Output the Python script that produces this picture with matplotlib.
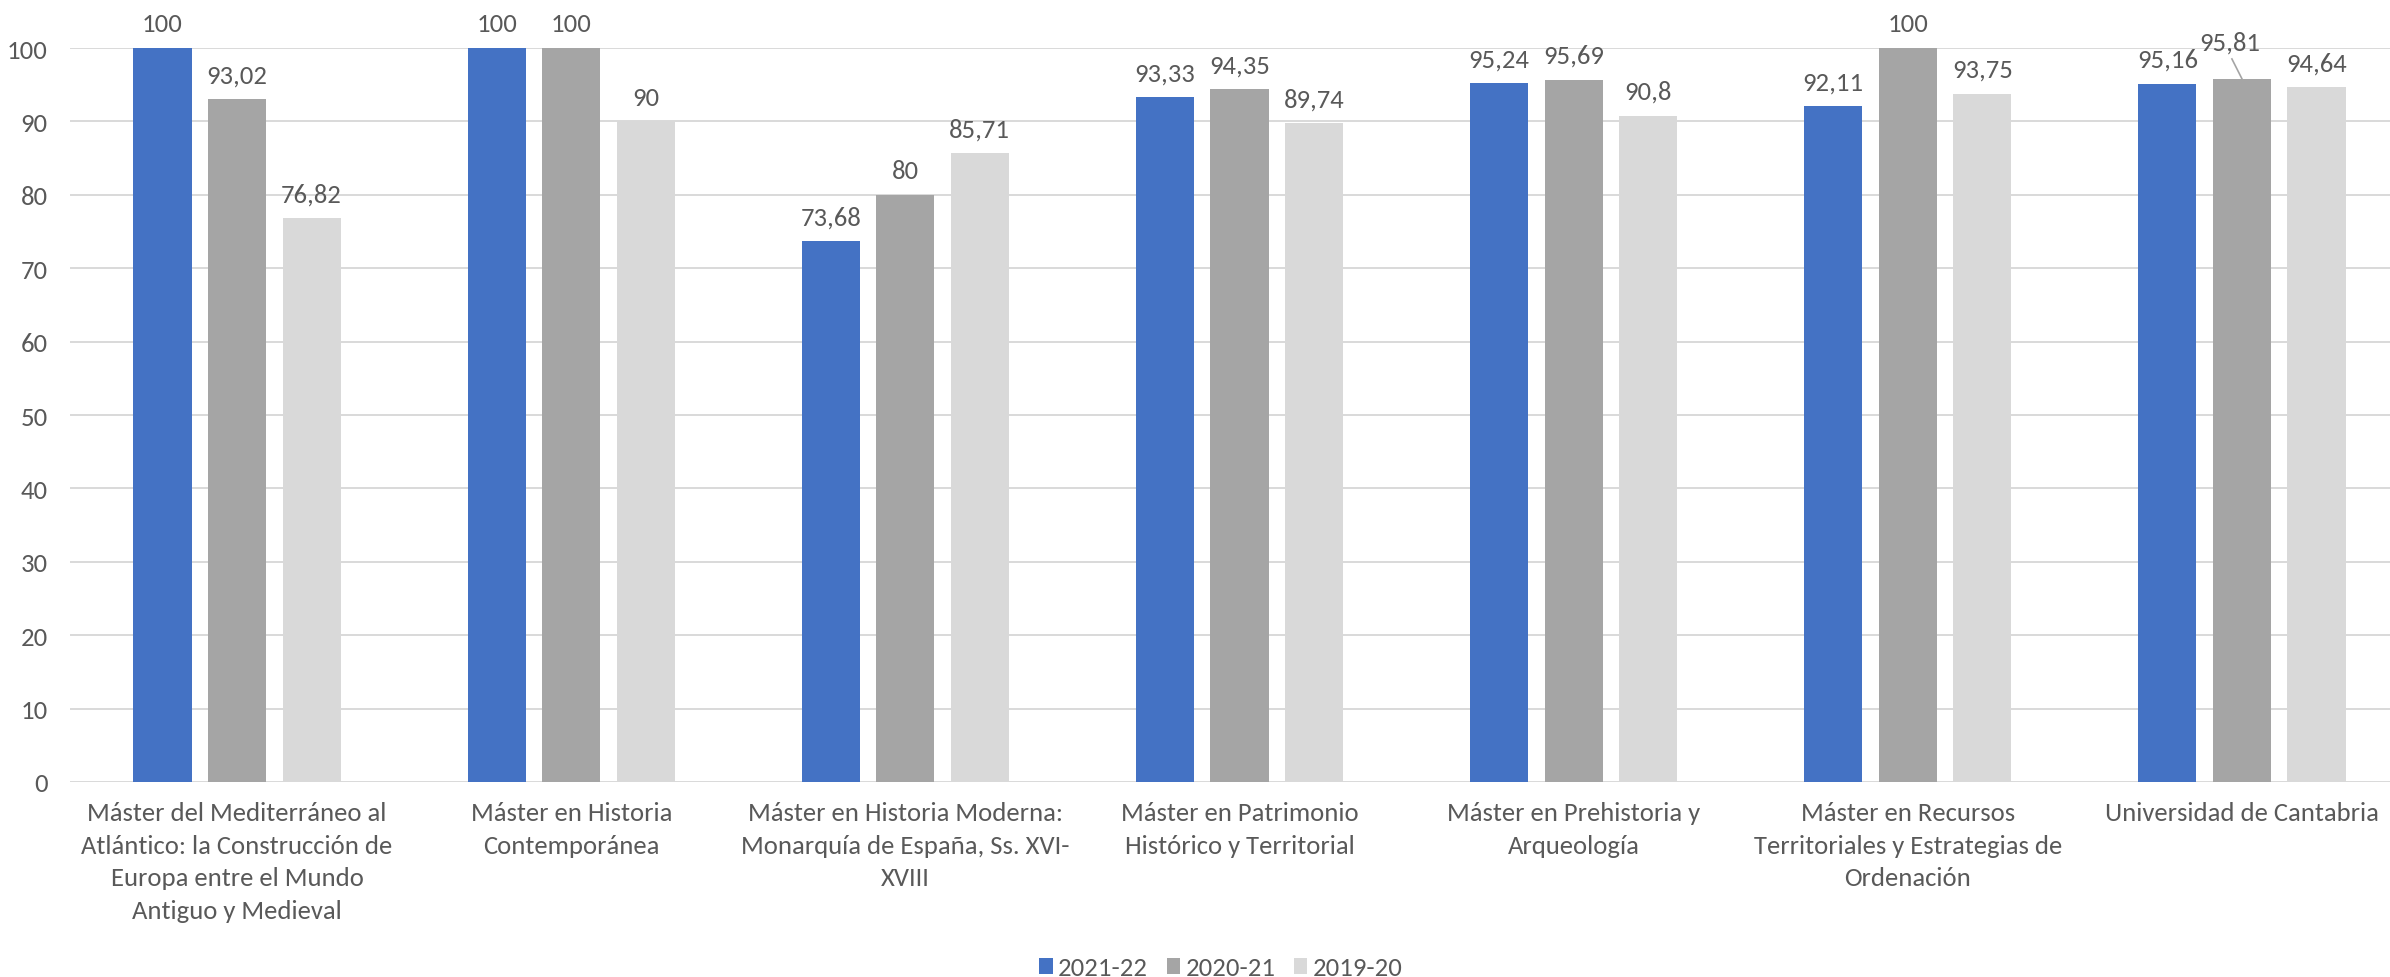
import matplotlib
matplotlib.use("Agg")
import matplotlib.pyplot as plt
import numpy as np

categories = [
    "Máster del Mediterráneo al\nAtlántico: la Construcción de\nEuropa entre el Mundo\nAntiguo y Medieval",
    "Máster en Historia\nContemporánea",
    "Máster en Historia Moderna:\nMonarquía de España, Ss. XVI-\nXVIII",
    "Máster en Patrimonio\nHistórico y Territorial",
    "Máster en Prehistoria y\nArqueología",
    "Máster en Recursos\nTerritoriales y Estrategias de\nOrdenación",
    "Universidad de Cantabria",
]
series_names = ["2021-22", "2020-21", "2019-20"]
s2021_22 = [100, 100, 73.68, 93.33, 95.24, 92.11, 95.16]
s2020_21 = [93.02, 100, 80, 94.35, 95.69, 100, 95.81]
s2019_20 = [76.82, 90, 85.71, 89.74, 90.8, 93.75, 94.64]
colors = ["#4472C4", "#A5A5A5", "#D9D9D9"]
yticks = [0, 10, 20, 30, 40, 50, 60, 70, 80, 90, 100]

plt.rcParams['font.family'] = ['Carlito', 'Liberation Sans Narrow', 'Roboto', 'DejaVu Sans']
txt = "#595959"
fs = 19.2

W, H = 2390, 978
fig = plt.figure(figsize=(W / 100, H / 100), dpi=100)
left, right, bottom, top = 70, 2409, 783, 49
ax = fig.add_axes([left / W, 1 - bottom / H, (right - left) / W, (bottom - top) / H])

x = np.arange(len(categories))
bw = 0.174
step = 0.223
all_series = [s2021_22, s2020_21, s2019_20]
for i, (vals, c, name) in enumerate(zip(all_series, colors, series_names)):
    xs = x + (i - 1) * step
    ax.bar(xs, vals, width=bw, color=c, label=name, zorder=3)
    for j, (xx, v) in enumerate(zip(xs, vals)):
        lab = f"{v:g}".replace(".", ",")
        if i == 1 and j == 6:
            ax.annotate(lab, xy=(xx, v), xytext=(xx - 0.035, v + 5), ha='center', va='center',
                        fontsize=fs, color=txt, annotation_clip=False)
            ax.plot([xx - 0.03, xx], [v + 2.7, v], color="#A5A5A5", lw=1.2, clip_on=False, zorder=4)
        else:
            ax.annotate(lab, xy=(xx, v), xytext=(0, 17.5), textcoords='offset points',
                        ha='center', va='center', fontsize=fs, color=txt, annotation_clip=False)

ax.set_xlim(-0.5, len(categories) - 0.5)
ax.set_ylim(0, 100)
ax.set_yticks(yticks)
ax.set_yticklabels([str(t) for t in yticks], fontsize=fs, color=txt)
ax.set_xticks(x)
ax.set_xticklabels(categories, fontsize=fs, color=txt, linespacing=1.5, va='top')
ax.tick_params(axis='y', length=0, pad=16)
ax.tick_params(axis='x', length=0, pad=14)
ax.grid(axis='y', color="#D9D9D9", lw=1.4, zorder=0)
ax.set_axisbelow(True)
for s in ax.spines.values():
    s.set_visible(False)

fig.legend(loc='center', bbox_to_anchor=(1221 / W, 1 - 969 / H), ncol=3, frameon=False,
           fontsize=fs, labelcolor=txt, handlelength=0.5, handleheight=0.5,
           handletextpad=0.2, columnspacing=0.7)

fig.savefig("out.png", dpi=100)
